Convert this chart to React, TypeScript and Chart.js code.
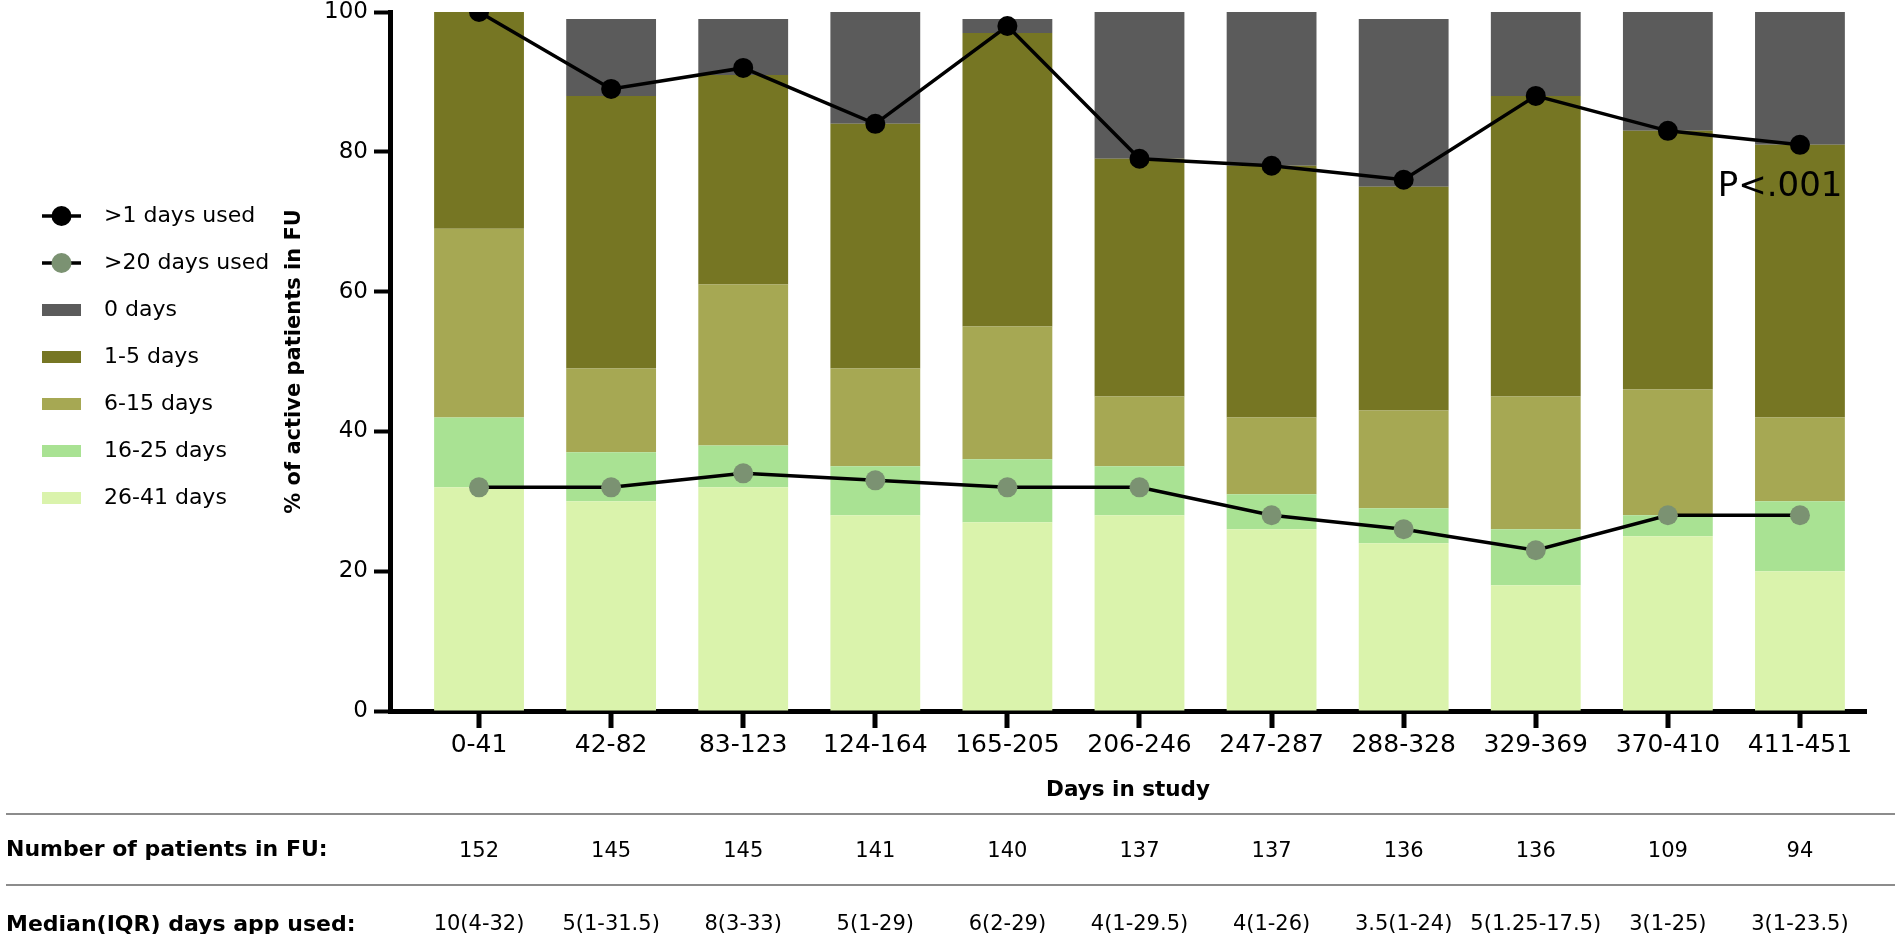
import React, { useEffect, useRef } from "react";
import { Chart, registerables } from "chart.js";

Chart.register(...registerables);

const FONT = '"DejaVu Sans", Verdana, sans-serif';

const categories = ["0-41", "42-82", "83-123", "124-164", "165-205", "206-246", "247-287", "288-328", "329-369", "370-410", "411-451"];

// stacked bar segments, bottom to top (% of active patients)
const days26to41 = [32, 30, 32, 28, 27, 28, 26, 24, 18, 25, 20];
const days16to25 = [10, 7, 6, 7, 9, 7, 5, 5, 8, 3, 10];
const days6to15 = [27, 12, 23, 14, 19, 10, 11, 14, 19, 18, 12];
const days1to5 = [31, 39, 30, 35, 42, 34, 36, 32, 43, 37, 39];
const days0 = [0, 11, 8, 16, 2, 21, 22, 24, 12, 17, 19];

// lines
const usedOver1 = [100, 89, 92, 84, 98, 79, 78, 76, 88, 83, 81];
const usedOver20 = [32, 32, 34, 33, 32, 32, 28, 26, 23, 28, 28];

// table under the chart
const patientsInFU = [152, 145, 145, 141, 140, 137, 137, 136, 136, 109, 94];
const medianIQR = ["10(4-32)", "5(1-31.5)", "8(3-33)", "5(1-29)", "6(2-29)", "4(1-29.5)", "4(1-26)", "3.5(1-24)", "5(1.25-17.5)", "3(1-25)", "3(1-23.5)"];

const yTicks = [0, 20, 40, 60, 80, 100];

const legendOrder = [">1 days used", ">20 days used", "0 days", "1-5 days", "6-15 days", "16-25 days", "26-41 days"];

const toPoints = (values: number[]) => values.map((y, i) => ({ x: i, y }));

const extrasPlugin = {
  id: "extras",
  afterDraw(chart: any) {
    const { ctx } = chart;
    const xs = chart.scales.x;
    const ys = chart.scales.y;
    ctx.save();

    // legend
    legendOrder.forEach((label, i) => {
      const ds = chart.data.datasets.find((d: any) => d.label === label);
      const cy = 216 + i * 47;
      if (ds.type === "line") {
        ctx.strokeStyle = ds.borderColor;
        ctx.lineWidth = 3.5;
        ctx.beginPath();
        ctx.moveTo(42, cy);
        ctx.lineTo(81, cy);
        ctx.stroke();
        ctx.fillStyle = ds.pointBackgroundColor;
        ctx.beginPath();
        ctx.arc(61.5, cy, 10, 0, Math.PI * 2);
        ctx.fill();
      } else {
        ctx.fillStyle = ds.backgroundColor;
        ctx.fillRect(42, cy - 6, 39, 12);
      }
      ctx.fillStyle = "#000";
      ctx.font = `22px ${FONT}`;
      ctx.textAlign = "left";
      ctx.textBaseline = "middle";
      ctx.fillText(label, 104, cy);
    });

    // p value
    ctx.font = `34px ${FONT}`;
    ctx.textAlign = "center";
    ctx.fillText("P<.001", xs.getPixelForValue(9.85), ys.getPixelForValue(75));

    // table
    ctx.strokeStyle = "#8c8c8c";
    ctx.lineWidth = 2;
    [814, 885].forEach((ly) => {
      ctx.beginPath();
      ctx.moveTo(6, ly);
      ctx.lineTo(1895, ly);
      ctx.stroke();
    });
    ctx.textAlign = "left";
    ctx.font = `bold 22px ${FONT}`;
    ctx.fillText("Number of patients in FU:", 6, 850);
    ctx.fillText("Median(IQR) days app used:", 6, 925);
    ctx.textAlign = "center";
    ctx.font = `21px ${FONT}`;
    categories.forEach((_, i) => {
      const px = xs.getPixelForValue(i);
      ctx.fillText(String(patientsInFU[i]), px, 852);
      ctx.fillText(medianIQR[i], px, 925);
    });

    // x tick marks under each category
    const axisY = chart.chartArea.bottom;
    ctx.fillStyle = "#000";
    categories.forEach((_, i) => {
      const px = Math.round(xs.getPixelForValue(i));
      ctx.fillRect(px - 2.5, axisY, 5, 17);
    });
    ctx.restore();
  },
};

const App = () => {
  const chartRef = useRef<HTMLCanvasElement>(null);

  useEffect(() => {
    const ctx = chartRef.current!.getContext("2d")!;
    Chart.defaults.font.family = FONT;
    Chart.defaults.color = "#000";

    const bar = (label: string, data: number[], color: string) => ({
      type: "bar" as const,
      label,
      data: toPoints(data),
      backgroundColor: color,
      borderWidth: 0,
      barPercentage: 0.68,
      categoryPercentage: 1,
      order: 1,
    });

    const myChart = new Chart(ctx, {
      type: "bar",
      data: {
        datasets: [
          bar("26-41 days", days26to41, "#daf3ac"),
          bar("16-25 days", days16to25, "#a9e293"),
          bar("6-15 days", days6to15, "#a6a853"),
          bar("1-5 days", days1to5, "#767623"),
          bar("0 days", days0, "#5b5b5b"),
          {
            type: "line",
            label: ">1 days used",
            data: toPoints(usedOver1),
            stack: "over1",
            borderColor: "#000",
            borderWidth: 3.5,
            pointRadius: 10,
            pointHoverRadius: 10,
            pointBorderWidth: 0,
            pointBackgroundColor: "#000",
            order: 0,
          },
          {
            type: "line",
            label: ">20 days used",
            data: toPoints(usedOver20),
            stack: "over20",
            borderColor: "#000",
            borderWidth: 3.5,
            pointRadius: 10,
            pointHoverRadius: 10,
            pointBorderWidth: 0,
            pointBackgroundColor: "#7b9272",
            order: 0,
          },
        ] as any,
      },
      options: {
        animation: false,
        responsive: true,
        maintainAspectRatio: false,
        layout: { padding: { left: 282, top: 12, right: 34, bottom: 123 } },
        plugins: {
          legend: { display: false },
          tooltip: { enabled: false },
        },
        scales: {
          x: {
            type: "linear",
            stacked: true,
            offset: false,
            min: -0.674,
            max: 10.5,
            afterBuildTicks: (scale: any) => {
              scale.ticks = categories.map((_, i) => ({ value: i }));
            },
            afterFit: (scale: any) => {
              scale.height = 100;
            },
            ticks: {
              callback: (value: any) => categories[Math.round(Number(value))],
              autoSkip: false,
              maxRotation: 0,
              padding: 3,
              font: { size: 25 },
              color: "#000",
            },
            grid: { offset: false, drawOnChartArea: false, drawTicks: true, tickLength: 16, tickColor: "rgba(0,0,0,0)" },
            border: { display: true, width: 5, color: "#000" },
            title: {
              display: true,
              text: "Days in study",
              font: { size: 21.5, weight: "bold" },
              padding: { top: 0, bottom: 8 },
              color: "#000",
            },
          },
          y: {
            stacked: true,
            min: 0,
            max: 100,
            afterBuildTicks: (scale: any) => {
              scale.ticks = yTicks.map((v) => ({ value: v }));
            },
            afterFit: (scale: any) => {
              scale.width = 108;
            },
            ticks: { padding: 6, font: { size: 23, lineHeight: 0.5 }, color: "#000" },
            grid: { drawOnChartArea: false, drawTicks: true, tickLength: 16, tickWidth: 4, tickColor: "#000" },
            border: { display: true, width: 5, color: "#000" },
            title: {
              display: true,
              text: "% of active patients in FU",
              font: { size: 21, weight: "bold" },
              padding: 0,
              color: "#000",
            },
          },
        },
      } as any,
      plugins: [extrasPlugin],
    });

    return () => {
      myChart.destroy();
    };
  }, []);

  return (
    <div style={{ position: "fixed", left: 0, top: 0, width: "1900px", height: "934px", background: "#fff" }}>
      <canvas ref={chartRef}></canvas>
    </div>
  );
};

export default App;
